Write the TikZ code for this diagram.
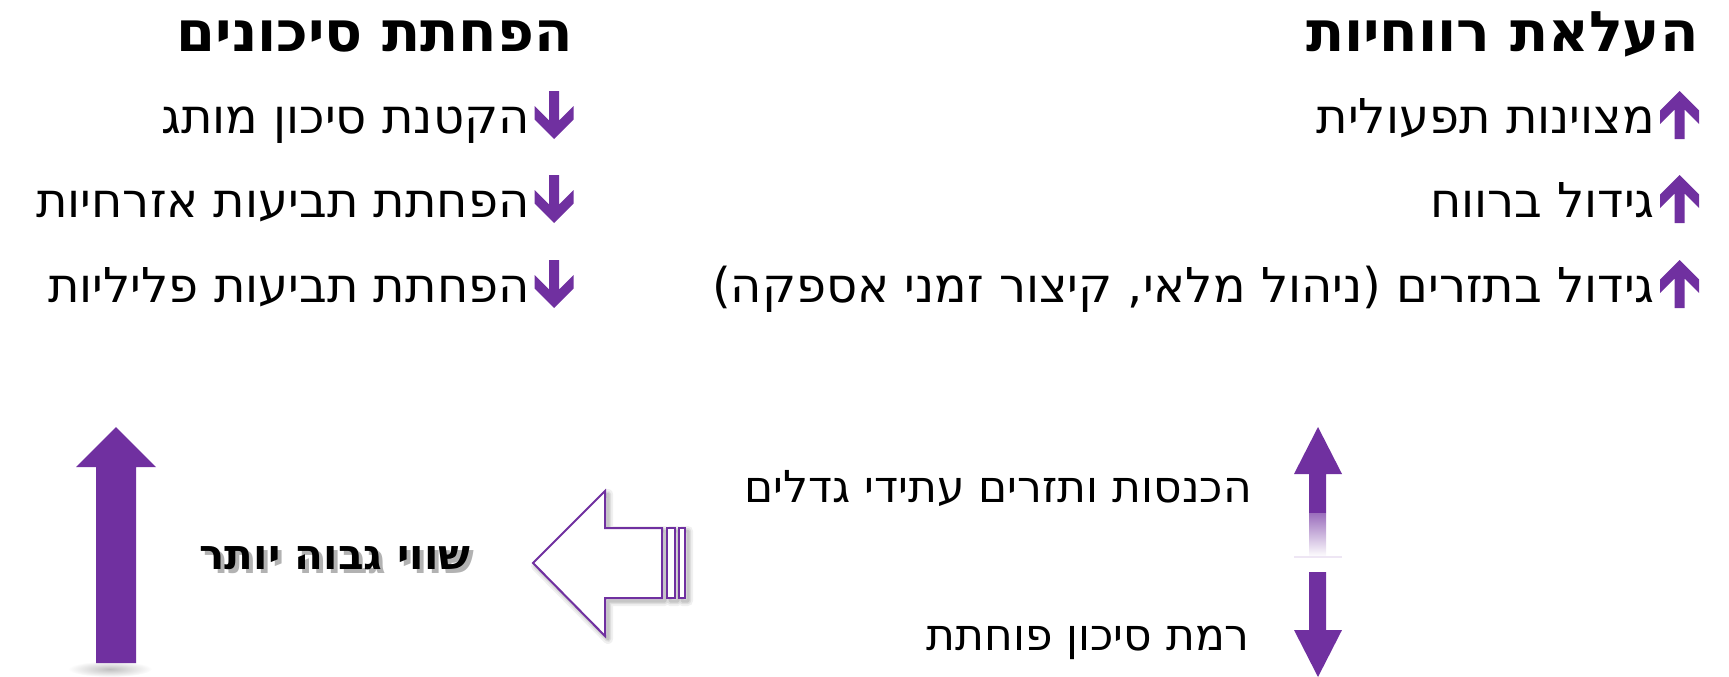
\documentclass[tikz,border=0pt]{standalone}
\usepackage{fontspec}
\newfontfamily\hebfont[Script=Hebrew]{DejaVu Sans}
\TeXXeTstate=1
\definecolor{grape}{HTML}{7030A0}

\begin{document}
\begin{tikzpicture}[x=1pt,y=-1pt,
	heb/.style={inner sep=0pt,anchor=base east,font=\hebfont\fontsize{48}{56}\selectfont},
	headline/.style={heb,font=\hebfont\bfseries\fontsize{56}{64}\selectfont},
	small/.style={heb,font=\hebfont\fontsize{44}{52}\selectfont},
	valtext/.style={inner sep=0pt,font=\hebfont\bfseries\fontsize{42}{50}\selectfont},
	gainarrow/.pic={\fill[grape] (0,0) -- (-19.5,19.5) -- (-19.5,33) -- (-5,18.5) -- (-5,48)
		-- (5,48) -- (5,18.5) -- (19.5,33) -- (19.5,19.5) -- cycle;},
	cutarrow/.pic={\fill[grape] (0,0) -- (-19.5,-19.5) -- (-19.5,-33) -- (-5,-18.5) -- (-5,-48)
		-- (5,-48) -- (5,-18.5) -- (19.5,-33) -- (19.5,-19.5) -- cycle;}]
	\useasboundingbox (0,0) rectangle (1729,677);

	% profit column
	\node[headline] (profit) at (1699,52) {\beginR העלאת רווחיות\endR};
	\node[heb] (ops) at (1655,133) {\beginR מצוינות תפעולית\endR};
	\node[heb] (gross) at (1655,217) {\beginR גידול ברווח\endR};
	\node[heb] (cash) at (1655,302) {\beginR גידול בתזרים (ניהול מלאי, קיצור זמני אספקה)\endR};
	\foreach \b in {133,217,302}
		\pic at (1679.5,\b-42) {gainarrow};

	% risk column
	\node[headline] (riskcut) at (573,52) {\beginR הפחתת סיכונים\endR};
	\node[heb] (brand) at (530,133) {\beginR הקטנת סיכון מותג\endR};
	\node[heb] (civil) at (530,217) {\beginR הפחתת תביעות אזרחיות\endR};
	\node[heb] (crime) at (530,302) {\beginR הפחתת תביעות פליליות\endR};
	\foreach \b in {133,217,302}
		\pic at (554,\b+6) {cutarrow};

	% value arrow
	\shade[inner color=black!25,outer color=white] (110,669) ellipse (42 and 8);
	\fill[grape] (116,427) -- (156,467) -- (136,467) -- (136,663) -- (96,663) -- (96,467) -- (76,467) -- cycle;
	\node[valtext,text=black!30] at (339,562) {\beginR שווי גבוה יותר\endR};
	\node[valtext] (value) at (335,558) {\beginR שווי גבוה יותר\endR};

	% hollow arrow
	\foreach \w/\o in {10/0.06,6/0.08,3/0.1}
		\draw[black,line width=\w,opacity=\o,line join=round] (536,566) -- (608,494) -- (608,531) -- (665,531) -- (665,601)
			-- (608,601) -- (608,639) -- cycle (670,531) rectangle (678,601) (682,531) rectangle (688,601);
	\filldraw[draw=grape,fill=white,line width=2] (533,563) -- (605,491) -- (605,528) -- (662,528) -- (662,598)
		-- (605,598) -- (605,636) -- cycle;
	\filldraw[draw=grape,fill=white,line width=2] (667,528) rectangle (675,598) (679,528) rectangle (685,598);

	% up and down
	\fill[grape] (1318,427) -- (1342,474) -- (1326,474) -- (1326,513) -- (1309,513) -- (1309,474) -- (1294,474) -- cycle;
	\shade[top color=grape!70,bottom color=white] (1309,513) rectangle (1326,557);
	\draw[grape!12,line width=2] (1294,557) -- (1342,557);
	\fill[grape] (1309,572) -- (1326,572) -- (1326,630) -- (1342,630) -- (1318,677) -- (1294,630) -- (1309,630) -- cycle;
	\node[small] (income) at (1252,502) {\beginR הכנסות ותזרים עתידי גדלים\endR};
	\node[small] (lowrisk) at (1250,650) {\beginR רמת סיכון פוחתת\endR};
\end{tikzpicture}
\end{document}
